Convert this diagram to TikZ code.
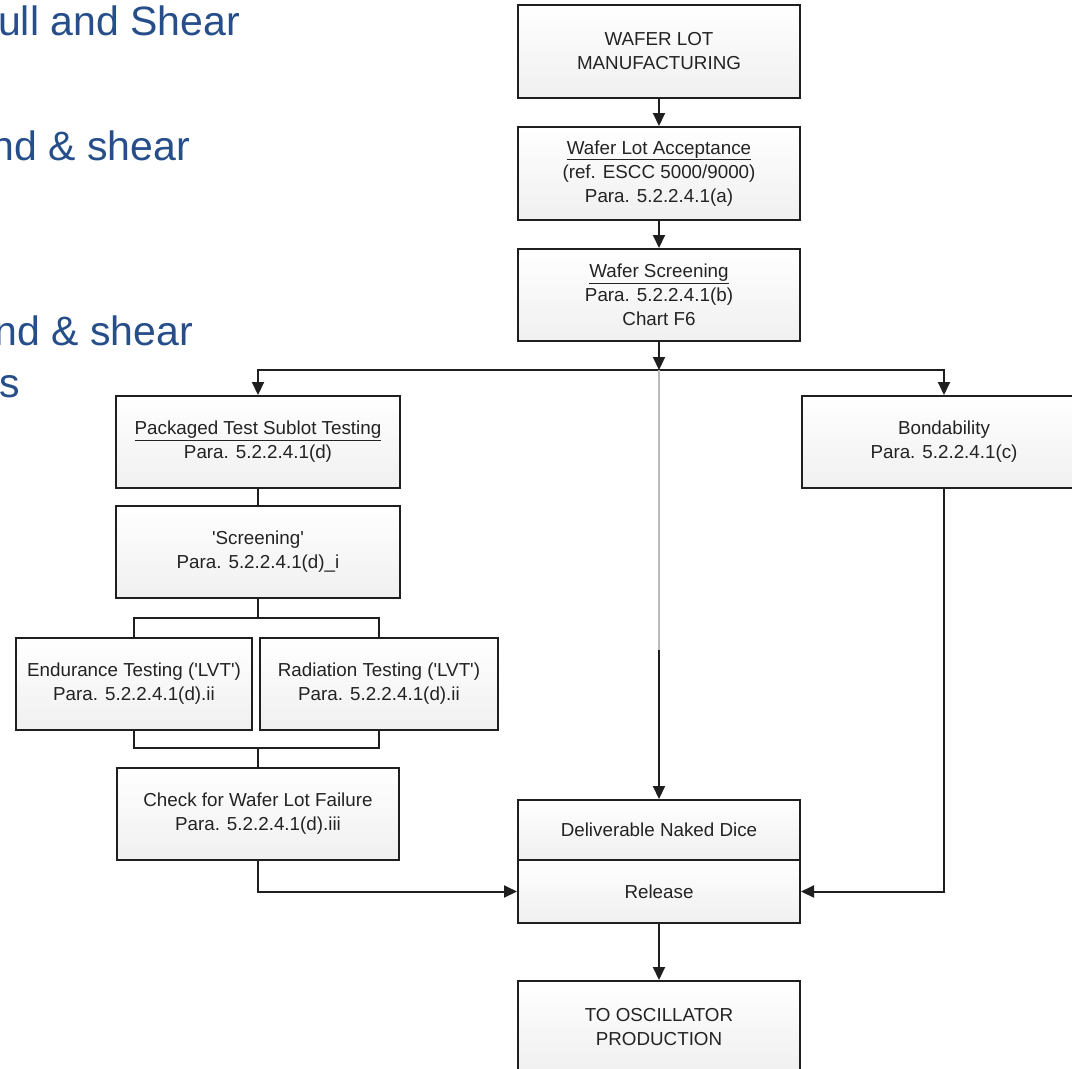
\documentclass[tikz,border=0pt]{standalone}
\usepackage{fontspec}
\setmainfont{Liberation Sans}[Ligatures=TeXOff]
\usetikzlibrary{arrows.meta}
\definecolor{slideblue}{RGB}{38,78,138}
\definecolor{boxtext}{RGB}{35,35,35}

\tikzset{
  flowbox/.style={draw=black!88, line width=2pt, top color=white, bottom color=black!6,
    inner sep=0pt, align=center, text=boxtext,
    font=\fontsize{18.8}{24}\selectfont, minimum width=282pt, minimum height=92pt},
  link/.style={line width=2pt, draw=black!88},
  arr/.style={link, -{Triangle[width=12pt,length=13pt]}},
  faint/.style={line width=2.4pt, draw=black!27},
  slidetext/.style={text=slideblue, font=\fontsize{41}{48}\selectfont, inner sep=0pt, anchor=base east}
}

\begin{document}
\begin{tikzpicture}[x=1pt,y=-1pt]
\clip (0,0) rectangle (1072,1069);
\fill[white] (0,0) rectangle (1072,1069);

% slide text on the left
\node[slidetext] (t1) at (240,35) {ull and Shear};
\node[slidetext] (t2) at (190,160) {nd \& shear};
\node[slidetext] (t3) at (193,345) {nd \& shear};
\node[slidetext] (t4) at (20,397) {s};

% main column
\node[flowbox, minimum height=93pt] (wlm) at (659,51.5) {WAFER LOT\\MANUFACTURING};
\node[flowbox, minimum height=93pt] (wla) at (659,173.5) {\underline{Wafer Lot Acceptance}\\(ref. ESCC 5000/9000)\\Para. 5.2.2.4.1(a)};
\node[flowbox] (ws) at (659,295) {\underline{Wafer Screening}\\Para. 5.2.2.4.1(b)\\Chart F6};

% left branch
\node[flowbox, minimum width=284pt] (pk) at (258,442) {\underline{Packaged Test Sublot Testing}\\Para. 5.2.2.4.1(d)};
\node[flowbox, minimum width=284pt] (scr) at (258,552) {'Screening'\\Para. 5.2.2.4.1(d)\_i};
\node[flowbox, minimum width=236pt] (endu) at (134,684) {Endurance Testing ('LVT')\\Para. 5.2.2.4.1(d).ii};
\node[flowbox, minimum width=238pt] (rad) at (379,684) {Radiation Testing ('LVT')\\Para. 5.2.2.4.1(d).ii};
\node[flowbox] (chk) at (258,814) {Check for Wafer Lot Failure\\Para. 5.2.2.4.1(d).iii};

% right branch
\node[flowbox, minimum width=284pt] (bond) at (944,442) {Bondability\\Para. 5.2.2.4.1(c)};

% release and output
\node[flowbox, minimum height=60pt] (dnd) at (659,830) {Deliverable Naked Dice};
\node[flowbox, minimum height=63pt] (rel) at (659,891.5) {Release};
\node[flowbox] (osc) at (659,1027) {TO OSCILLATOR\\PRODUCTION};

% junction points
\coordinate (split) at (659,370);
\coordinate (fade) at (659,650);
\coordinate (fork) at (258,618);
\coordinate (join) at (258,748);

% connectors
\draw[arr] (wlm) -- (wla);
\draw[arr] (wla) -- (ws);
\draw[arr] (ws) -- (split);
\draw[arr] (split) -| (pk.north);
\draw[arr] (split) -| (bond.north);
\draw[faint] (split) -- (fade);
\draw[arr] (fade) -- (dnd.north);
\draw[link] (pk) -- (scr);
\draw[link] (scr.south) -- (fork);
\draw[link] (endu.north) |- (fork) -| (rad.north);
\draw[link] (endu.south) |- (join) -| (rad.south);
\draw[link] (join) -- (chk.north);
\draw[arr] (chk.south) |- (rel.west);
\draw[arr] (bond.south) |- (rel.east);
\draw[arr] (rel) -- (osc);
\end{tikzpicture}
\end{document}
